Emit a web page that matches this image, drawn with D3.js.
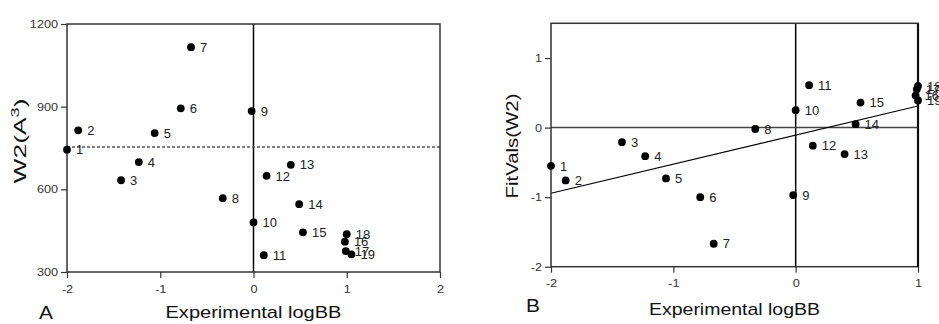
<!DOCTYPE html>
<html>
<head>
<meta charset="utf-8">
<script src="https://cdn.jsdelivr.net/npm/d3@7"></script>
<style>
  html, body { margin: 0; background: #fff; }
  svg { display: block; font-family: Arial, "Liberation Sans", sans-serif; }
</style>
</head>
<body>
<div id="chart"></div>
<script>
// compound numbers and values
const compounds = ["1","2","3","4","5","6","7","8","9","10","11","12","13","14","15","16","17","18","19"];
const logBB   = [-2.0, -1.88, -1.42, -1.23, -1.06, -0.78, -0.67, -0.33, -0.02, 0.0, 0.11, 0.14, 0.40, 0.49, 0.53, 0.98, 0.99, 1.00, 1.05];
const w2      = [744, 814, 633, 699, 804, 894, 1116, 568, 884, 480, 361, 649, 689, 546, 444, 410, 376, 437, 364];
const fitVals = [-0.55, -0.76, -0.21, -0.41, -0.73, -1.0, -1.67, -0.02, -0.97, 0.25, 0.61, -0.26, -0.38, 0.05, 0.36, 0.46, 0.55, 0.60, 0.39];

const w2Ref    = 754;                         // dashed reference line, panel A
const fitLine  = [[-2, -0.945], [1, 0.31]];   // regression line, panel B

const xTicksA = [-2, -1, 0, 1, 2];
const yTicksA = [300, 600, 900, 1200];
const xTicksB = [-2, -1, 0, 1];
const yTicksB = [-2, -1, 0, 1];

const W = 939, H = 324;

const svg = d3.select("#chart").append("svg")
  .attr("width", W).attr("height", H);

// widen glyphs a bit, the reference text is drawn wider than Arial
function stretch(sel, k) {
  sel.each(function () {
    const w = this.getComputedTextLength();
    this.setAttribute("textLength", w * k);
    this.setAttribute("lengthAdjust", "spacingAndGlyphs");
  });
}

function styleAxis(g) {
  g.select(".domain").remove();
  g.selectAll(".tick line").attr("stroke", "#333").attr("stroke-width", 1.2);
  g.selectAll(".tick text")
    .attr("fill", "#333")
    .attr("font-size", "11px")
    .call(stretch, 1.15);
}

function drawPanel(opt) {
  const x = d3.scaleLinear().domain(opt.xDomain).range(opt.xRange).clamp(true);
  const y = d3.scaleLinear().domain(opt.yDomain).range(opt.yRange);
  const g = svg.append("g");

  const [x0, x1] = opt.xRange;
  const [y0, y1] = opt.yRange;

  // axes
  g.append("g")
    .attr("transform", `translate(0,${y0})`)
    .call(d3.axisBottom(x).tickValues(opt.xTicks).tickSize(6).tickPadding(7)
      .tickFormat(d => String(d)))
    .call(styleAxis);

  g.append("g")
    .attr("transform", `translate(${x0},0)`)
    .call(d3.axisLeft(y).tickValues(opt.yTicks).tickSize(6).tickPadding(3)
      .tickFormat(d => String(d)))
    .call(styleAxis);

  // reference lines
  g.append("line")
    .attr("x1", x(0)).attr("x2", x(0)).attr("y1", y1).attr("y2", y0)
    .attr("stroke", "#000").attr("stroke-width", 1.5);

  if (opt.hLine != null) {
    g.append("line")
      .attr("x1", x0).attr("x2", x1).attr("y1", y(opt.hLine)).attr("y2", y(opt.hLine))
      .attr("stroke", opt.hDash ? "#555" : "#444")
      .attr("stroke-width", 1.5)
      .attr("stroke-dasharray", opt.hDash ? "3,2" : null);
  }

  if (opt.fit) {
    g.append("line")
      .attr("x1", x(opt.fit[0][0])).attr("y1", y(opt.fit[0][1]))
      .attr("x2", x(opt.fit[1][0])).attr("y2", y(opt.fit[1][1]))
      .attr("stroke", "#000").attr("stroke-width", 1.1);
  }

  // frame
  g.append("rect")
    .attr("x", x0).attr("y", y1)
    .attr("width", x1 - x0).attr("height", y0 - y1)
    .attr("fill", "none").attr("stroke", "#333").attr("stroke-width", 1.5);

  if (opt.thickRight) {
    g.append("line")
      .attr("x1", x1).attr("x2", x1).attr("y1", y1).attr("y2", y0)
      .attr("stroke", "#111").attr("stroke-width", 2.2);
  }

  const pts = compounds.map((c, i) => ({ id: c, x: logBB[i], y: opt.yVals[i] }));

  // labels first, dots drawn over them
  g.append("g")
    .selectAll("text")
    .data(pts)
    .join("text")
    .attr("x", d => x(d.x) + 9)
    .attr("y", d => y(d.y))
    .attr("dy", "0.36em")
    .attr("font-size", "13px")
    .attr("fill", "#222")
    .text(d => d.id);

  g.append("g")
    .selectAll("circle")
    .data(pts)
    .join("circle")
    .attr("cx", d => x(d.x))
    .attr("cy", d => y(d.y))
    .attr("r", 3.9)
    .attr("fill", "#000");

  // titles
  g.append("text")
    .attr("x", (x0 + x1) / 2).attr("y", opt.xTitleY)
    .attr("text-anchor", "middle")
    .attr("font-size", "17px").attr("fill", "#111")
    .attr("textLength", opt.xTitleLen).attr("lengthAdjust", "spacingAndGlyphs")
    .text("Experimental logBB");

  const yt = g.append("text")
    .attr("transform", `translate(${opt.yTitleX},${opt.yTitleC}) rotate(-90)`)
    .attr("text-anchor", "middle")
    .attr("font-size", "16px").attr("fill", "#111")
    .attr("textLength", opt.yTitleLen).attr("lengthAdjust", "spacingAndGlyphs");
  opt.yTitle(yt);

  g.append("text")
    .attr("x", opt.letterX).attr("y", opt.letterY)
    .attr("font-size", "19px").attr("fill", "#111")
    .text(opt.letter)
    .call(stretch, 1.1);
}

drawPanel({
  xDomain: [-2, 2], xRange: [67, 440],
  yDomain: [300, 1200], yRange: [272, 24],
  xTicks: xTicksA, yTicks: yTicksA,
  yVals: w2,
  hLine: w2Ref, hDash: true,
  xTitleY: 318, xTitleLen: 176,
  yTitleX: 26, yTitleC: 141, yTitleLen: 85,
  yTitle: t => {
    t.append("tspan").text("W2(A");
    t.append("tspan").attr("font-size", "11px").attr("dy", "-0.6em").text("3");
    t.append("tspan").attr("dy", "0.4em").text(")");
  },
  letter: "A", letterX: 39, letterY: 319
});

drawPanel({
  xDomain: [-2, 1], xRange: [551, 918],
  yDomain: [-2, 1.5], yRange: [266.7, 23.3],
  xTicks: xTicksB, yTicks: yTicksB,
  yVals: fitVals,
  hLine: 0, hDash: false,
  fit: fitLine,
  thickRight: true,
  xTitleY: 315, xTitleLen: 171,
  yTitleX: 518, yTitleC: 146, yTitleLen: 105,
  yTitle: t => t.text("FitVals(W2)"),
  letter: "B", letterX: 526, letterY: 312
});
</script>
</body>
</html>
